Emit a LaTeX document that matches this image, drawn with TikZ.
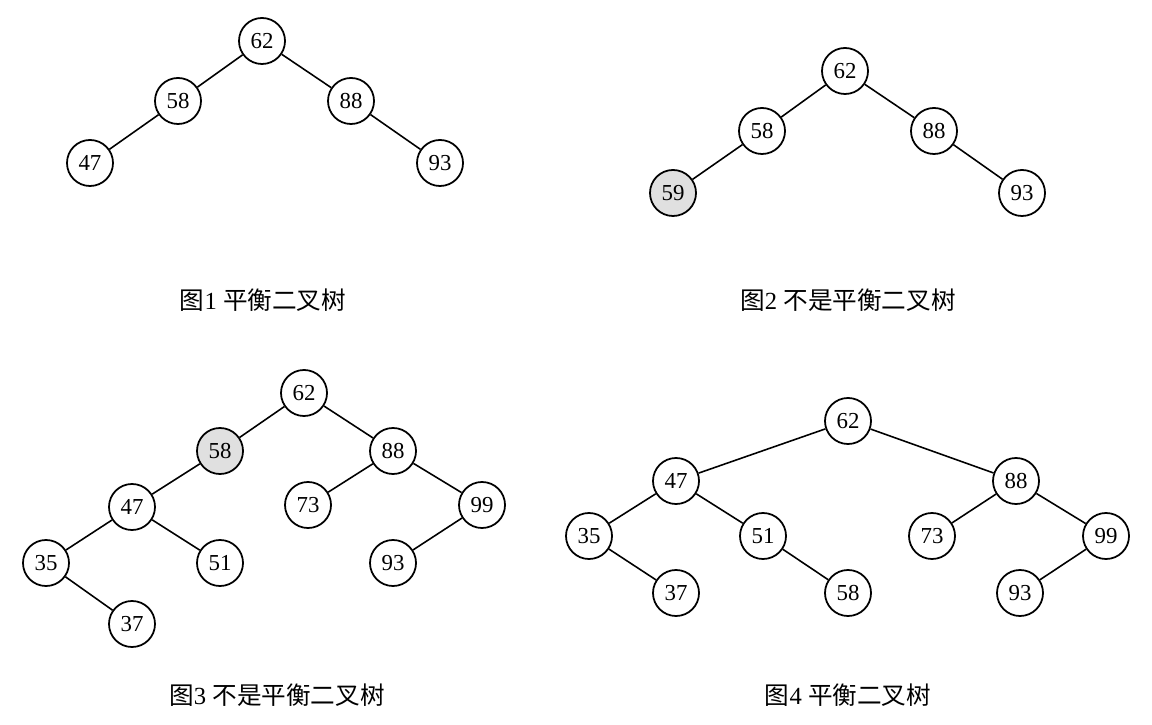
\documentclass[tikz,border=0pt]{standalone}
\usepackage{fontspec}
\setmainfont{Liberation Serif}
\newfontfamily\cjk{Noto Sans CJK SC}
\begin{document}
\begin{tikzpicture}[x=0.01cm,y=-0.01cm,
  nd/.style={circle,draw,line width=0.5pt,minimum size=0.46cm,inner sep=0pt,font=\fontsize{6.5}{7}\selectfont,fill=white},
  hl/.style={nd,fill=black!12},
  capt/.style={font=\fontsize{7}{8}\selectfont},
  every path/.style={line width=0.45pt}]
\useasboundingbox (0,0) rectangle (1152,725);
% Fig 1
\node[nd] (a62) at (262,41) {62};
\node[nd] (a58) at (178,101) {58};
\node[nd] (a88) at (351,101) {88};
\node[nd] (a47) at (90,163) {47};
\node[nd] (a93) at (440,163) {93};
\draw (a62)--(a58) (a62)--(a88) (a58)--(a47) (a88)--(a93);
\node[capt] (c1) at (263,300) {{\cjk 图}1 {\cjk 平衡二叉树}};
% Fig 2
\node[nd] (b62) at (845,71) {62};
\node[nd] (b58) at (762,131) {58};
\node[nd] (b88) at (934,131) {88};
\node[hl] (b59) at (673,193) {59};
\node[nd] (b93) at (1022,193) {93};
\draw (b62)--(b58) (b62)--(b88) (b58)--(b59) (b88)--(b93);
\node[capt] (c2) at (848,300) {{\cjk 图}2 {\cjk 不是平衡二叉树}};
% Fig 3
\node[nd] (d62) at (304,393) {62};
\node[hl] (d58) at (220,451) {58};
\node[nd] (d88) at (393,451) {88};
\node[nd] (d47) at (132,507) {47};
\node[nd] (d73) at (308,505) {73};
\node[nd] (d99) at (482,505) {99};
\node[nd] (d35) at (46,563) {35};
\node[nd] (d51) at (220,563) {51};
\node[nd] (d93) at (393,563) {93};
\node[nd] (d37) at (132,624) {37};
\draw (d62)--(d58) (d62)--(d88) (d58)--(d47) (d88)--(d73) (d88)--(d99)
      (d47)--(d35) (d47)--(d51) (d99)--(d93) (d35)--(d37);
\node[capt] (c3) at (277,695) {{\cjk 图}3 {\cjk 不是平衡二叉树}};
% Fig 4
\node[nd] (e62) at (848,421) {62};
\node[nd] (e47) at (676,481) {47};
\node[nd] (e88) at (1016,481) {88};
\node[nd] (e35) at (589,536) {35};
\node[nd] (e51) at (763,536) {51};
\node[nd] (e73) at (932,536) {73};
\node[nd] (e99) at (1106,536) {99};
\node[nd] (e37) at (676,593) {37};
\node[nd] (e58) at (848,593) {58};
\node[nd] (e93) at (1020,593) {93};
\draw (e62)--(e47) (e62)--(e88) (e47)--(e35) (e47)--(e51) (e88)--(e73) (e88)--(e99)
      (e35)--(e37) (e51)--(e58) (e99)--(e93);
\node[capt] (c4) at (848,695) {{\cjk 图}4 {\cjk 平衡二叉树}};
\end{tikzpicture}
\end{document}
